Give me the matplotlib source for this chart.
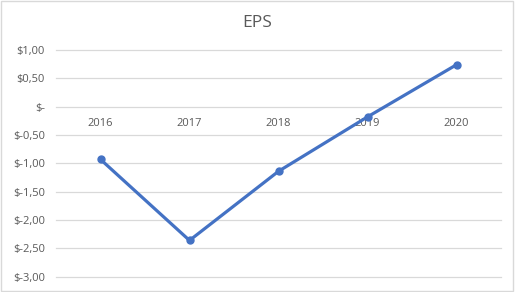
import matplotlib.pyplot as plt
from matplotlib.patches import Rectangle

years = ["2016", "2017", "2018", "2019", "2020"]
eps = [-0.93, -2.36, -1.14, -0.18, 0.74]
y_ticks = [1.0, 0.5, 0.0, -0.5, -1.0, -1.5, -2.0, -2.5, -3.0]


def money(v):
    # excel accounting style with comma decimals
    if v == 0:
        return "$-"
    return "$" + f"{v:.2f}".replace(".", ",")


plt.rcParams["font.family"] = ["Open Sans", "DejaVu Sans"]
text_col = "#595959"

fig = plt.figure(figsize=(5.15, 2.92), dpi=100)
ax = fig.add_axes([56 / 515, (292 - 276.7) / 292, (501 - 56) / 515, (276.7 - 50) / 292])

x = list(range(len(years)))
ax.plot(x, eps, color="#4472C4", lw=2.3, marker="o", ms=5, solid_capstyle="round")

# move the category axis to zero first, this resets the ticks
for s in ax.spines.values():
    s.set_visible(False)
ax.spines["bottom"].set_position(("data", 0))

ax.set_xlim(-0.5, len(years) - 0.5)
ax.set_ylim(-3.0, 1.0)
ax.set_yticks(y_ticks)
ax.set_yticklabels([money(v) for v in y_ticks], fontsize=8, color=text_col)
ax.set_xticks(x)
ax.set_xticklabels(years, fontsize=8, color=text_col)
ax.grid(axis="y", color="#d9d9d9", lw=0.9)
for gl in ax.get_ygridlines():
    gl.set_clip_on(False)
ax.set_axisbelow(True)
ax.tick_params(axis="both", length=0)
ax.tick_params(axis="y", pad=8)
ax.tick_params(axis="x", pad=8)

fig.text(0.5, 1 - 23 / 292, "EPS", ha="center", va="center", fontsize=12.5, color=text_col)
fig.patches.append(Rectangle((0.002, 0.003), 0.995, 0.994, transform=fig.transFigure,
                             fill=False, edgecolor="#d9d9d9", lw=1))

fig.savefig("out.png", dpi=100)
